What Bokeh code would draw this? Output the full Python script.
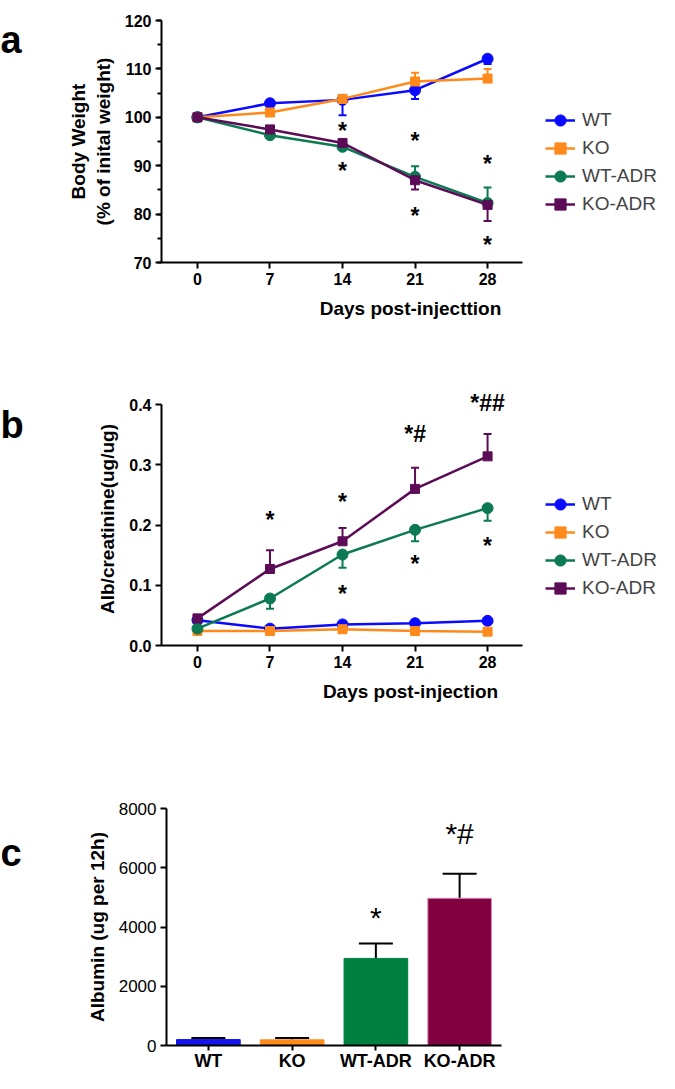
from bokeh.plotting import figure
from bokeh.models import (ColumnDataSource, Legend, LegendItem, Whisker, TeeHead, FixedTicker,
                          SingleIntervalTicker, Range1d, FactorRange, NumeralTickFormatter)
from bokeh.layouts import column, row
from bokeh.embed import file_html
from bokeh.resources import INLINE
from bokeh.core.properties import value

FONT = "Liberation Sans"
LW = 26          # width of the strip holding the panel letter
TOTAL_W = 659
X0, X1 = -3.47, 31.37   # visible x-axis extent (days)
AXIS_W = 361            # pixel length of the x-axis line

# ---------------- data ----------------
days = [0, 7, 14, 21, 28]
groups = ["WT", "KO", "WT-ADR", "KO-ADR"]
line_colors = ["#0a0aff", "#ff8a1c", "#0b7a52", "#5c0c56"]
bar_colors = ["#1414f0", "#ff8a1c", "#008040", "#800040"]
bar_edges = ["#1414f0", "#ff8a1c", "#008040", "#e08cbc"]
markers = ["circle", "square", "circle", "square"]

# panel a: body weight (% of initial); signed SEM (sign = drawn direction)
bw_wt = [100.0, 102.9, 103.6, 105.6, 112.1]
bw_ko = [100.0, 101.0, 103.8, 107.4, 108.0]
bw_wtadr = [100.0, 96.3, 93.9, 87.7, 82.3]
bw_koadr = [100.0, 97.5, 94.7, 87.0, 81.9]
bw_wt_err = [-0.3, -0.4, -3.2, -1.8, -1.1]
bw_ko_err = [0.3, 1.3, 0.8, 1.8, 2.0]
bw_wtadr_err = [0.3, 0.6, 0.6, 2.2, 3.2]
bw_koadr_err = [-0.3, -0.5, -0.6, -1.9, -3.3]
a_star_x = [14, 14, 21, 21, 28, 28]
a_star_y = [98.2, 89.9, 96.2, 80.6, 91.3, 74.6]

# panel b: Alb/creatinine (ug/ug)
ac_wt = [0.042, 0.028, 0.035, 0.037, 0.041]
ac_ko = [0.024, 0.024, 0.027, 0.024, 0.023]
ac_wtadr = [0.028, 0.078, 0.151, 0.192, 0.228]
ac_koadr = [0.045, 0.127, 0.173, 0.260, 0.314]
ac_wt_err = [-0.004, -0.003, -0.003, -0.003, -0.004]
ac_ko_err = [-0.003, -0.003, -0.003, -0.003, -0.003]
ac_wtadr_err = [-0.004, -0.017, -0.022, -0.019, -0.021]
ac_koadr_err = [0.006, 0.031, 0.022, 0.035, 0.037]
b_star_x = [7, 14, 14, 21, 28]
b_star_y = [0.216, 0.247, 0.094, 0.144, 0.174]
b_hash_x = [21, 28]
b_hash_y = [0.351, 0.403]
b_hash_t = ["*#", "*##"]

# panel c: albumin (ug per 12h)
alb = [200, 190, 2940, 4970]
alb_err = [50, 60, 500, 830]
c_star_x = ["WT-ADR"]
c_star_y = [4570]
c_hash_x = ["KO-ADR"]
c_hash_y = [7145]
c_hash_t = ["*#"]


def style_axes(p):
    for ax in (p.xaxis[0], p.yaxis[0]):
        ax.axis_line_width = 2
        ax.axis_line_color = "black"
        ax.major_tick_line_width = 2
        ax.major_tick_line_color = "black"
        ax.major_tick_out = 6
        ax.major_tick_in = 0
        ax.minor_tick_line_width = 2
        ax.minor_tick_line_color = "black"
        ax.minor_tick_out = 4
        ax.minor_tick_in = 0
        ax.major_label_text_font = FONT
        ax.major_label_text_color = "black"
        ax.axis_label_text_font = FONT
        ax.axis_label_text_font_style = "bold"
        ax.axis_label_text_font_size = "19px"
        ax.axis_label_text_color = "black"
        ax.major_label_standoff = 4
    p.grid.visible = False
    p.outline_line_color = None


def letter_strip(txt, height, baseline_from_top):
    f = figure(width=LW, height=height, x_range=Range1d(0, LW), y_range=Range1d(0, height),
               output_backend="svg", toolbar_location=None,
               min_border_left=0, min_border_right=0, min_border_top=0, min_border_bottom=0)
    f.axis.visible = False
    f.grid.visible = False
    f.outline_line_color = None
    f.text(x=[0], y=[height - baseline_from_top], text=[txt], text_font=value(FONT),
           text_font_style="bold", text_font_size="38px", text_align="left",
           text_baseline="alphabetic", text_color="black")
    return f


def line_panel(series, errs, yrange, height, top, bottom, xtitle, ytitle, legend_y):
    left = 161 - LW
    frame_w = TOTAL_W - LW - left
    x_end = X0 + (X1 - X0) * frame_w / AXIS_W
    p = figure(width=TOTAL_W - LW, height=height, x_range=Range1d(X0, x_end), y_range=yrange,
               output_backend="svg", toolbar_location=None,
               min_border_left=left, min_border_right=0, min_border_top=top,
               min_border_bottom=bottom)
    items = []
    for name, vals, err, col, mk in zip(groups, series, errs, line_colors, markers):
        src = ColumnDataSource(dict(x=days, y=vals, tip=[v + e for v, e in zip(vals, err)]))
        lr = p.line("x", "y", source=src, line_color=col, line_width=2.5)
        sr = p.scatter("x", "y", source=src, marker=mk, size=11 if mk == "circle" else 9,
                       fill_color=col, line_color=col)
        p.add_layout(Whisker(base="x", lower="y", upper="tip", source=src, dimension="height",
                             line_color=col, line_width=2,
                             upper_head=TeeHead(size=8, line_color=col, line_width=2),
                             lower_head=None))
        items.append(LegendItem(label=name, renderers=[lr, sr]))
    style_axes(p)
    p.xaxis[0].bounds = (X0, X1)
    p.xaxis[0].ticker = FixedTicker(ticks=days, minor_ticks=[])
    p.xaxis[0].major_label_text_font_style = "bold"
    p.xaxis[0].major_label_text_font_size = "16px"
    p.yaxis[0].major_label_text_font_style = "bold"
    p.yaxis[0].major_label_text_font_size = "16px"
    p.xaxis[0].axis_label = xtitle
    p.yaxis[0].axis_label = ytitle
    p.xaxis[0].axis_label_standoff = 10
    p.yaxis[0].axis_label_standoff = 8
    leg = Legend(items=items, location=(384, legend_y), padding=0, margin=0, spacing=0,
                 glyph_width=30, glyph_height=28, label_height=28, label_standoff=7,
                 label_text_font=FONT, label_text_font_size="19px",
                 border_line_color=None, background_fill_alpha=0)
    p.add_layout(leg, "center")
    return p


# ---------------- panel a ----------------
pa = line_panel([bw_wt, bw_ko, bw_wtadr, bw_koadr], [bw_wt_err, bw_ko_err, bw_wtadr_err, bw_koadr_err],
                Range1d(70, 120), 327, 20, 65, "Days post-injecttion",
                "Body Weight\n(% of inital weight)", 44)
pa.yaxis[0].ticker = SingleIntervalTicker(interval=10, num_minor_ticks=2)
pa.text(x=a_star_x, y=a_star_y, text=["*"] * len(a_star_x), text_font=value(FONT),
        text_font_style="bold", text_font_size="23px", text_align="center",
        text_baseline="middle", y_offset=5, text_color="black")

# ---------------- panel b ----------------
pb = line_panel([ac_wt, ac_ko, ac_wtadr, ac_koadr], [ac_wt_err, ac_ko_err, ac_wtadr_err, ac_koadr_err],
                Range1d(0, 0.42), 385, 65, 67, "Days post-injection", "Alb/creatinine(ug/ug)", 43)
pb.yaxis[0].ticker = FixedTicker(ticks=[0, 0.1, 0.2, 0.3, 0.4], minor_ticks=[])
pb.yaxis[0].bounds = (0, 0.4)
pb.yaxis[0].formatter = NumeralTickFormatter(format="0.0")
pb.text(x=b_star_x, y=b_star_y, text=["*"] * len(b_star_x), text_font=value(FONT),
        text_font_style="bold", text_font_size="23px", text_align="center",
        text_baseline="middle", y_offset=5, text_color="black")
pb.text(x=b_hash_x, y=b_hash_y, text=b_hash_t, text_font=value(FONT),
        text_font_style="bold", text_font_size="23px", text_align="center",
        text_baseline="middle", text_color="black")

# ---------------- panel c ----------------
pc = figure(width=TOTAL_W - LW, height=361, x_range=FactorRange(*groups), y_range=Range1d(0, 8000),
            output_backend="svg", toolbar_location=None,
            min_border_left=166 - LW, min_border_right=158, min_border_top=96, min_border_bottom=24)
csrc = ColumnDataSource(dict(g=groups, v=alb, tip=[v + e for v, e in zip(alb, alb_err)],
                             fc=bar_colors, lc=bar_edges))
pc.vbar(x="g", top="v", width=0.76, source=csrc, fill_color="fc", line_color="lc", line_width=1)
pc.add_layout(Whisker(base="g", lower="v", upper="tip", source=csrc, dimension="height",
                      line_color="black", line_width=2,
                      upper_head=TeeHead(size=34, line_color="black", line_width=2),
                      lower_head=None))
style_axes(pc)
pc.yaxis[0].ticker = FixedTicker(ticks=[0, 2000, 4000, 6000, 8000], minor_ticks=[])
pc.yaxis[0].major_label_text_font_size = "17px"
pc.xaxis[0].major_label_text_font_style = "bold"
pc.xaxis[0].major_label_text_font_size = "18px"
pc.xaxis[0].major_label_standoff = 0
pc.xaxis[0].major_tick_out = 5
pc.yaxis[0].axis_label = "Albumin (ug per 12h)"
pc.yaxis[0].axis_label_standoff = 8
pc.text(x=c_star_x, y=c_star_y, text=["*"], text_font=value(FONT),
        text_font_size="30px", text_align="center", text_baseline="middle",
        y_offset=7, text_color="black")
pc.text(x=c_hash_x, y=c_hash_y, text=c_hash_t, text_font=value(FONT),
        text_font_size="30px", text_align="center", text_baseline="middle", text_color="black")

layout = column(
    row(letter_strip("a", 327, 27), pa, spacing=0),
    row(letter_strip("b", 385, 50), pb, spacing=0),
    row(letter_strip("c", 361, 68), pc, spacing=0),
    spacing=0,
)
open("out.html", "w").write(file_html(layout, INLINE))
